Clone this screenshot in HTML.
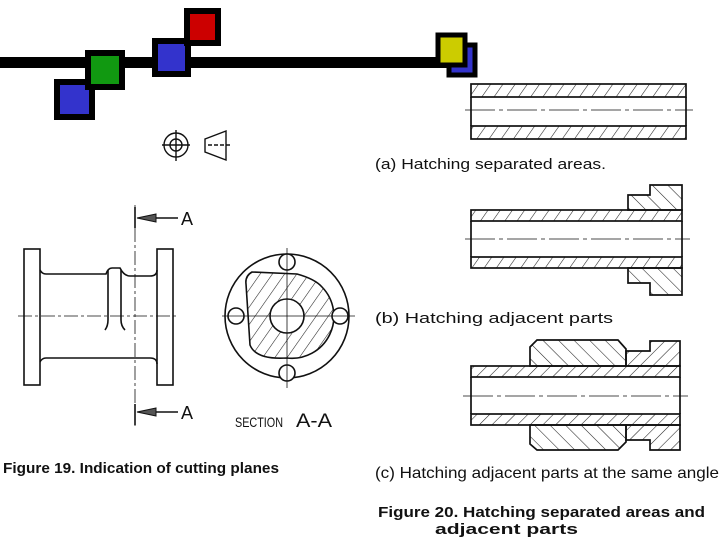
<!DOCTYPE html>
<html><head><meta charset="utf-8"><style>
html,body{margin:0;padding:0;background:#fff;width:720px;height:540px;overflow:hidden}
svg{display:block}
text{font-family:"Liberation Sans",sans-serif;fill:#111}
</style></head><body>
<svg width="720" height="540" viewBox="0 0 720 540" xmlns="http://www.w3.org/2000/svg">
<defs>
<pattern id="h1" width="10" height="10" patternUnits="userSpaceOnUse" patternTransform="rotate(35)">
<line x1="0" y1="0" x2="0" y2="10" stroke="#222" stroke-width="1.1"/></pattern>
<pattern id="h2" width="11" height="11" patternUnits="userSpaceOnUse" patternTransform="rotate(-45)">
<line x1="0" y1="0" x2="0" y2="11" stroke="#222" stroke-width="1.1"/></pattern>
<pattern id="h3" width="9" height="9" patternUnits="userSpaceOnUse" patternTransform="rotate(45)">
<line x1="0" y1="0" x2="0" y2="9" stroke="#222" stroke-width="1.1"/></pattern>
</defs>
<rect x="0" y="57" width="466" height="11" fill="#000"/>
<rect x="57" y="82" width="35" height="35" fill="#3333cc" stroke="#000" stroke-width="6"/>
<rect x="88" y="53" width="34" height="34" fill="#119911" stroke="#000" stroke-width="6"/>
<rect x="155" y="41" width="33" height="33" fill="#3333cc" stroke="#000" stroke-width="6"/>
<rect x="187" y="11" width="31" height="32" fill="#cc0000" stroke="#000" stroke-width="6"/>
<rect x="449" y="45" width="26" height="30" fill="#3333cc" stroke="#000" stroke-width="5"/>
<rect x="438" y="35" width="27" height="30" fill="#cccc00" stroke="#000" stroke-width="5"/>
<g stroke="#111" fill="none" stroke-width="1.4">
<circle cx="176" cy="145" r="12"/><circle cx="176" cy="145" r="6"/>
<line x1="162" y1="145" x2="190" y2="145"/><line x1="176" y1="130" x2="176" y2="161"/>
<path d="M205 139 L226 131 L226 160 L205 152 Z"/><line x1="208" y1="145" x2="230" y2="145" stroke-dasharray="4 2"/>
</g>
<g stroke="#111" stroke-width="1.7">
<rect x="471" y="84" width="215" height="13" fill="url(#h1)"/>
<rect x="471" y="126" width="215" height="13" fill="url(#h1)"/>
<line x1="471" y1="97" x2="471" y2="126"/><line x1="686" y1="97" x2="686" y2="126"/>
<line x1="465" y1="110" x2="693" y2="110" stroke-width="0.8" stroke-dasharray="30 4 4 4"/>
</g>
<text x="375" y="169" font-size="15" textLength="231" lengthAdjust="spacingAndGlyphs">(a) Hatching separated areas.</text>
<g stroke="#111" stroke-width="1.7">
<path d="M628 210 L628 195 L650 195 L650 185 L682 185 L682 210 Z" fill="url(#h2)"/>
<path d="M628 268 L628 283 L650 283 L650 295 L682 295 L682 268 Z" fill="url(#h2)"/>
<rect x="471" y="210" width="211" height="11" fill="url(#h1)"/>
<rect x="471" y="257" width="211" height="11" fill="url(#h1)"/>
<line x1="471" y1="221" x2="471" y2="257"/><line x1="682" y1="221" x2="682" y2="257"/>
<line x1="465" y1="239" x2="690" y2="239" stroke-width="0.8" stroke-dasharray="30 4 4 4"/>
</g>
<text x="375" y="323" font-size="15" textLength="238" lengthAdjust="spacingAndGlyphs">(b) Hatching adjacent parts</text>
<g stroke="#111" stroke-width="1.7">
<path d="M530 366 L530 347 L537 340 L618 340 L626 349 L626 366 Z" fill="url(#h2)"/>
<path d="M626 366 L626 351 L650 351 L650 341 L680 341 L680 366 Z" fill="url(#h3)"/>
<path d="M530 425 L530 444 L537 450 L618 450 L626 442 L626 425 Z" fill="url(#h2)"/>
<path d="M626 425 L626 440 L650 440 L650 450 L680 450 L680 425 Z" fill="url(#h3)"/>
<rect x="471" y="366" width="209" height="11" fill="url(#h3)"/>
<rect x="471" y="414" width="209" height="11" fill="url(#h3)"/>
<line x1="471" y1="377" x2="471" y2="414"/><line x1="680" y1="377" x2="680" y2="414"/>
<line x1="463" y1="396" x2="688" y2="396" stroke-width="0.8" stroke-dasharray="30 4 4 4"/>
</g>
<text x="375" y="478" font-size="16" textLength="344" lengthAdjust="spacingAndGlyphs">(c) Hatching adjacent parts at the same angle</text>
<text x="378" y="517" font-size="15" font-weight="bold" textLength="327" lengthAdjust="spacingAndGlyphs">Figure 20. Hatching separated areas and</text>
<text x="435" y="534" font-size="15" font-weight="bold" textLength="143" lengthAdjust="spacingAndGlyphs">adjacent parts</text>
<g stroke="#111" stroke-width="1.6" fill="none">
<rect x="24" y="249" width="16" height="136"/>
<rect x="157" y="249" width="16" height="136"/>
<path d="M40 270 Q42 274 46 274 L106 274 Q108 268 112 268 L120 268 Q124 276 130 276 L150 276 Q157 276 157 270"/>
<path d="M40 362 Q42 358 46 358 L150 358 Q157 358 157 364"/>
<path d="M108 270 L108 320 Q108 326 105 330"/>
<path d="M121 270 L121 320 Q121 326 125 330"/>
<line x1="18" y1="316" x2="178" y2="316" stroke-width="0.8" stroke-dasharray="14 3 3 3"/>
<line x1="135" y1="205" x2="135" y2="428" stroke-width="0.8" stroke-dasharray="14 3 3 3"/>
<line x1="135" y1="207" x2="135" y2="228"/><line x1="135" y1="404" x2="135" y2="425"/>
<line x1="155" y1="218" x2="178" y2="218"/><line x1="155" y1="412" x2="178" y2="412"/>
</g>
<path d="M137 218 L156 214 L156 222 Z" fill="#555" stroke="#111"/>
<path d="M137 412 L156 408 L156 416 Z" fill="#555" stroke="#111"/>
<text x="181" y="225" font-size="18">A</text>
<text x="181" y="419" font-size="18">A</text>
<g stroke="#111" stroke-width="1.6" fill="none">
<circle cx="287" cy="316" r="62"/>
<path d="M252 272 Q245 276 246 284 L250 345 Q256 360 287 358 A42 42 0 0 0 322 287 Q315 279 297 274 Z" fill="url(#h1)"/>
<circle cx="287" cy="316" r="17" fill="#fff"/>
<circle cx="287" cy="262" r="8" fill="#fff"/><circle cx="287" cy="373" r="8" fill="#fff"/>
<circle cx="236" cy="316" r="8" fill="#fff"/><circle cx="340" cy="316" r="8" fill="#fff"/>
<line x1="222" y1="316" x2="355" y2="316" stroke-width="0.8"/>
<line x1="287" y1="248" x2="287" y2="388" stroke-width="0.8"/>
</g>
<text x="235" y="427" font-size="14" textLength="48" lengthAdjust="spacingAndGlyphs">SECTION</text>
<text x="296" y="427" font-size="19" textLength="36" lengthAdjust="spacingAndGlyphs">A-A</text>
<text x="3" y="473" font-size="14.5" font-weight="bold" textLength="276" lengthAdjust="spacingAndGlyphs">Figure 19. Indication of cutting planes</text>
</svg>
</body></html>
